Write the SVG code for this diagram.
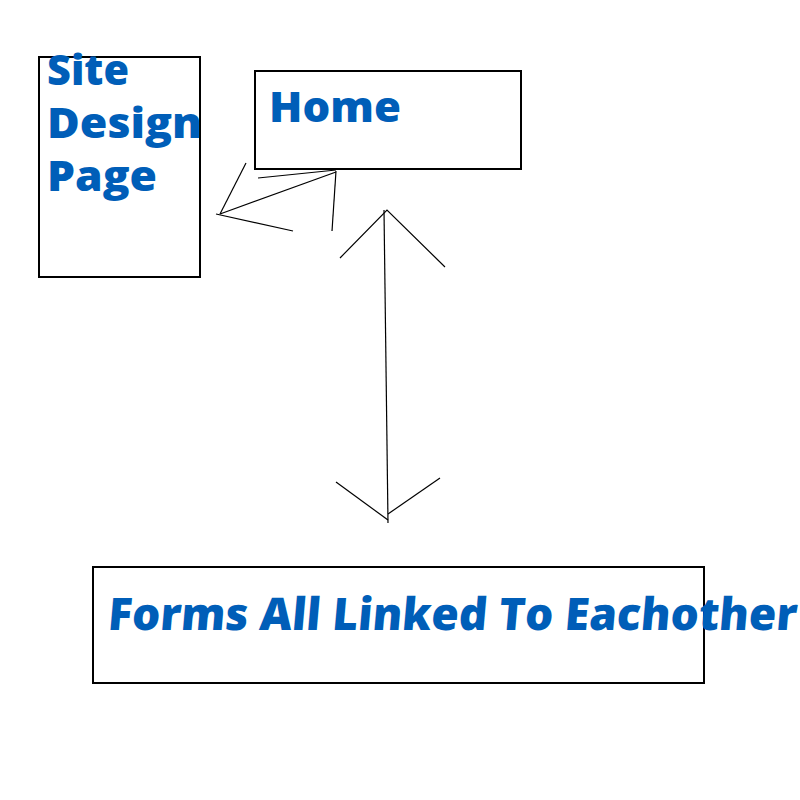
<svg xmlns="http://www.w3.org/2000/svg" width="800" height="800" viewBox="0 0 800 800">
<style>
.box{fill:none;stroke:#000;stroke-width:2}
.t{font-family:"Open Sans","Noto Sans",sans-serif;font-weight:800;fill:#005EB8}
.c line, .c polyline{stroke:#000;stroke-width:1.2;fill:none}
</style>
<rect width="800" height="800" fill="#fff"/>
<g id="site">
<rect class="box" x="39" y="57" width="161" height="220"/>
<text class="t" font-size="43" x="47" y="85" textLength="82" lengthAdjust="spacingAndGlyphs">Site</text>
<text class="t" font-size="43" x="47" y="138" textLength="155" lengthAdjust="spacingAndGlyphs">Design</text>
<text class="t" font-size="43" x="47" y="191" textLength="110" lengthAdjust="spacingAndGlyphs">Page</text>
</g>
<g id="home">
<rect class="box" x="255" y="71" width="266" height="98"/>
<text class="t" font-size="43" x="269" y="122" textLength="132" lengthAdjust="spacingAndGlyphs">Home</text>
</g>
<g id="forms">
<rect class="box" x="93" y="567" width="611" height="116"/>
<text class="t" font-size="45" x="107" y="630" textLength="689" lengthAdjust="spacingAndGlyphs" transform="translate(55.1,0) skewX(-5)">Forms All Linked To Eachother</text>
</g>
<g class="c" id="connectors">
<line x1="246" y1="163" x2="220" y2="214"/>
<line x1="216" y1="214" x2="293" y2="231"/>
<line x1="220" y1="214" x2="336" y2="172"/>
<line x1="258" y1="178" x2="336" y2="170"/>
<line x1="336" y1="171" x2="332" y2="231"/>
<line x1="384" y1="210" x2="388" y2="523"/>
<polyline points="340,258 387,210 445,267"/>
<line x1="336" y1="482" x2="388" y2="520"/>
<line x1="388" y1="514" x2="440" y2="478"/>
</g>
</svg>
